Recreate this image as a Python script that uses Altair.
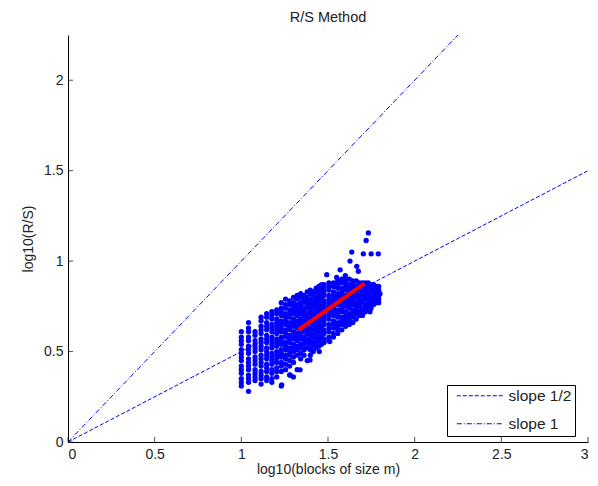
import math
import altair as alt
import pandas as pd

# block sizes m (x = log10(m)) and read-off log10(R/S) values (in hundredths) per block size
block_sizes = [10, 11, 12, 13, 14, 15, 16, 17, 18, 19, 20, 21, 22, 23, 24, 25, 26, 27, 28, 29,
               30, 32, 34, 36, 38, 40, 42, 44, 46, 48, 50, 52, 54, 56, 58, 60, 62]
rs_values = [
    [61, 58, 56, 54, 51, 49, 47, 45, 42, 40, 38, 35, 33, 31],
    [66, 63, 61, 58, 56, 53, 51, 49, 46, 44, 42, 40, 37, 35, 33, 28],
    [61, 59, 56, 54, 52, 50, 47, 45, 43, 40, 38, 36, 34],
    [69, 67, 64, 62, 60, 57, 55, 53, 51, 48, 46, 44, 42, 39, 37, 35, 32],
    [71, 69, 66, 64, 62, 59, 57, 55, 52, 50, 48, 46, 43, 41, 39, 36, 34],
    [72, 70, 68, 65, 63, 61, 58, 56, 54, 52, 49, 47, 45, 43, 40, 38, 35, 33],
    [73, 71, 68, 66, 64, 62, 60, 57, 55, 53, 50, 48, 46, 44, 41, 39, 36],
    [77, 74, 72, 70, 67, 65, 63, 61, 58, 56, 54, 51, 49, 47, 44, 42, 39, 31],
    [79, 76, 74, 71, 69, 67, 65, 62, 60, 58, 55, 53, 51, 48, 46, 43, 40],
    [78, 76, 73, 71, 69, 66, 64, 62, 59, 57, 55, 52, 50, 48, 45, 42, 37],
    [80, 77, 75, 73, 71, 68, 66, 64, 61, 59, 57, 54, 52, 50, 47, 44],
    [81, 79, 76, 74, 72, 70, 67, 65, 63, 60, 58, 56, 53, 51, 48, 40],
    [82, 80, 77, 75, 73, 71, 68, 66, 64, 61, 59, 57, 54, 52, 49, 46],
    [81, 79, 77, 74, 72, 70, 67, 65, 63, 61, 58, 56, 54, 51, 48],
    [83, 80, 78, 76, 74, 71, 69, 67, 64, 62, 60, 57, 55, 52, 45],
    [84, 82, 79, 77, 75, 72, 70, 68, 66, 63, 61, 59, 56, 54, 51, 48],
    [83, 81, 78, 76, 74, 71, 69, 67, 65, 62, 60, 58, 55, 53, 50],
    [85, 83, 80, 78, 76, 73, 71, 69, 67, 64, 62, 60, 57, 55, 52],
    [86, 84, 81, 79, 77, 75, 72, 70, 68, 65, 63, 61, 58, 56, 53],
    [87, 85, 82, 80, 78, 75, 73, 71, 69, 66, 64, 62, 59, 57, 54],
    [87, 85, 83, 81, 78, 76, 74, 71, 69, 67, 65, 62, 60, 57, 55],
    [88, 86, 84, 81, 79, 77, 75, 72, 70, 68, 65, 63, 61, 58, 56],
    [88, 86, 83, 81, 79, 77, 74, 72, 70, 67, 65, 63, 60, 58],
    [89, 87, 85, 82, 80, 78, 76, 73, 71, 69, 66, 64, 62, 60],
    [90, 88, 85, 83, 81, 78, 76, 74, 72, 69, 67, 65, 62],
    [90, 88, 86, 84, 81, 79, 77, 75, 72, 70, 68, 66, 64],
    [90, 87, 85, 83, 80, 78, 76, 74, 71, 69, 67, 65],
    [89, 87, 85, 82, 80, 78, 76, 73, 71, 69, 66],
    [89, 86, 84, 82, 80, 77, 75, 73, 71, 68],
    [88, 86, 84, 81, 79, 77, 75, 72, 70],
    [88, 86, 83, 81, 79, 77, 74, 72, 70],
    [88, 85, 83, 81, 79, 76, 74, 72],
    [88, 86, 83, 81, 79, 77, 75, 73],
    [87, 85, 83, 80, 78, 76, 74],
    [87, 85, 82, 80, 78, 76],
    [86, 84, 82, 79, 77],
    [86, 84, 81, 79, 77],
]

# isolated points
outlier_x = [1.733, 1.720, 1.637, 1.704, 1.749, 1.790, 1.627, 1.666, 1.570, 1.493, 1.675,
             1.600, 1.550, 1.742, 1.510, 1.281, 1.233, 1.339, 1.396, 1.450, 1.300, 1.800]
outlier_y = [1.156, 1.114, 1.050, 1.040, 1.040, 1.040, 1.000, 0.971, 0.952, 0.925, 0.944,
             0.920, 0.910, 0.720, 0.555, 0.371, 0.316, 0.399, 0.454, 0.500, 0.360, 0.820]

# fitted line end points
fit_x = [1.33, 1.71]
fit_y = [0.62, 0.875]

# reference lines
ref_series = ["slope 1/2", "slope 1/2", "slope 1", "slope 1"]
ref_x = [0.0, 3.0, 0.0, 2.25]
ref_y = [0.0, 1.5, 0.0, 2.25]

# axis tick values
x_ticks = [0, 0.5, 1, 1.5, 2, 2.5, 3]
y_ticks = [0, 0.5, 1, 1.5, 2]

rows = []
for m, ys in zip(block_sizes, rs_values):
    for v in ys:
        rows.append({"x": math.log10(m), "y": v / 100.0})
for xv, yv in zip(outlier_x, outlier_y):
    rows.append({"x": xv, "y": yv})
scatter_df = pd.DataFrame(rows)
fit_df = pd.DataFrame({"x": fit_x, "y": fit_y})
ref_df = pd.DataFrame({"series": ref_series, "x": ref_x, "y": ref_y})
xt_df = pd.DataFrame({"v": x_ticks})
yt_df = pd.DataFrame({"v": y_ticks})

FONT = "Liberation Sans"
BLUE = "#0000ff"
TXT = "#222222"
W, H = 520, 407
xscale = alt.Scale(domain=[0, 3], nice=False, zero=False)
yscale = alt.Scale(domain=[0, 2.25], nice=False, zero=False)

ref = alt.Chart(ref_df).mark_line(color=BLUE, strokeWidth=1, clip=True).encode(
    x=alt.X("x:Q", scale=xscale, axis=None),
    y=alt.Y("y:Q", scale=yscale, axis=None),
    strokeDash=alt.StrokeDash(
        "series:N",
        scale=alt.Scale(domain=["slope 1/2", "slope 1"], range=[[4, 2], [5, 2, 1, 2]]),
        legend=alt.Legend(
            title=None, orient="none", legendX=379, legendY=350,
            strokeColor="black", fillColor="white", padding=3,
            symbolType="M-0.14,0H6.43", symbolSize=196, symbolStrokeColor=BLUE,
            symbolStrokeWidth=1, labelFont=FONT, labelFontSize=15.5,
            labelColor=TXT, rowPadding=11, labelOffset=43,
        ),
    ),
    detail="series:N",
)

scatter = alt.Chart(scatter_df).mark_point(
    filled=True, shape="circle", size=28, color=BLUE, opacity=1
).encode(
    x=alt.X("x:Q", scale=xscale,
            axis=alt.Axis(values=x_ticks, format="~g",
                          title="log10(blocks of size m)", ticks=False, labelPadding=5,
                          titlePadding=1, grid=False, orient="bottom",
                          domainColor="black", labelFont=FONT, titleFont=FONT,
                          labelFontSize=14, titleFontSize=14, titleFontWeight="normal",
                          labelColor=TXT, titleColor=TXT)),
    y=alt.Y("y:Q", scale=yscale,
            axis=alt.Axis(values=y_ticks, format="~g", title="log10(R/S)",
                          ticks=False, labelPadding=5, titlePadding=8, grid=False,
                          orient="left", domainColor="black", labelFont=FONT,
                          titleFont=FONT, labelFontSize=14, titleFontSize=14,
                          titleFontWeight="normal", labelColor=TXT,
                          titleColor=TXT)),
)

fit = alt.Chart(fit_df).mark_line(color="#ff0000", strokeWidth=4).encode(
    x=alt.X("x:Q", scale=xscale, axis=None),
    y=alt.Y("y:Q", scale=yscale, axis=None),
)

# inward-pointing ticks (MATLAB style)
xticks = alt.Chart(xt_df).mark_tick(color="black", size=5, thickness=1, orient="vertical").encode(
    x=alt.X("v:Q", scale=xscale, axis=None),
    y=alt.value(H - 2.5),
)
yticks = alt.Chart(yt_df).mark_tick(color="black", size=5, thickness=1, orient="horizontal").encode(
    y=alt.Y("v:Q", scale=yscale, axis=None),
    x=alt.value(2.5),
)

chart = alt.layer(ref, scatter, fit, xticks, yticks).resolve_axis(
    x="independent", y="independent"
).properties(
    width=W, height=H,
    title=alt.TitleParams("R/S Method", font=FONT, fontSize=14.5, fontWeight="normal",
                          color=TXT, offset=10),
    autosize=alt.AutoSizeParams(type="none"),
    padding={"left": 60, "top": 27, "right": 2, "bottom": 36},
).configure_view(stroke=None)

chart.save("out.html", embed_options={"renderer": "svg", "actions": False})
